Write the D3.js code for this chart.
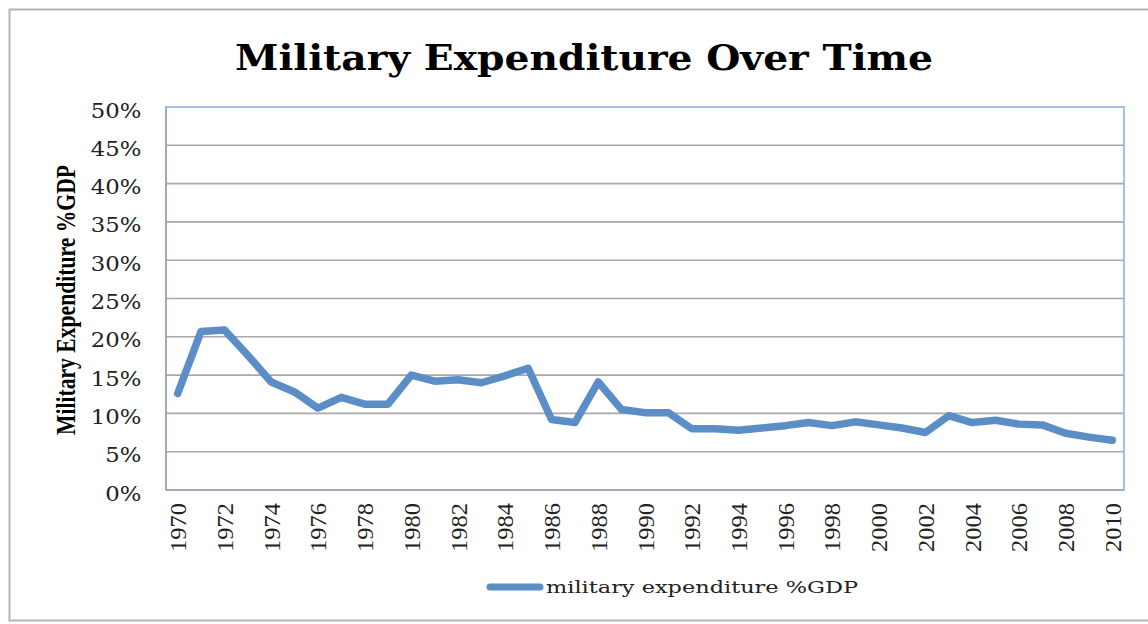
<!DOCTYPE html>
<html>
<head>
<meta charset="utf-8">
<script src="https://cdn.jsdelivr.net/npm/d3@7"></script>
<style>
  body { margin: 0; background: #fff; }
  svg { display: block; }
</style>
</head>
<body>
<div id="chart-area"></div>
<script>
// data (% of GDP)
var years = d3.range(1970, 2011);
var milExp = [12.6, 20.7, 20.9, 17.6, 14.1, 12.8, 10.7, 12.1, 11.2, 11.2,
              15.0, 14.2, 14.4, 14.0, 14.9, 15.9, 9.2, 8.8, 14.1, 10.5,
              10.1, 10.1, 8.0, 8.0, 7.8, 8.1, 8.4, 8.8, 8.4, 8.9,
              8.5, 8.1, 7.5, 9.7, 8.8, 9.1, 8.6, 8.5, 7.4, 6.9, 6.5];
var yTicks = [0, 5, 10, 15, 20, 25, 30, 35, 40, 45, 50];
var xLabels = years.filter(function(y){ return (y - 1970) % 2 === 0; });
var seriesName = "military expenditure %GDP";
var chartTitle = "Military Expenditure Over Time";
var yTitle = "Military Expenditure %GDP";

var width = 1148, height = 624;
var plot = {left: 166, top: 107, right: 1124, bottom: 490};

var svg = d3.select("#chart-area").append("svg")
    .attr("width", width)
    .attr("height", height);

// outer frame
svg.append("rect")
    .attr("x", 9.5).attr("y", 9.5)
    .attr("width", 1150).attr("height", 611)
    .attr("fill", "#fff")
    .attr("stroke", "#b3b3b3")
    .attr("stroke-width", 2);

var x = d3.scaleBand()
    .domain(years)
    .range([plot.left, plot.right]);

var y = d3.scaleLinear()
    .domain([0, 50])
    .range([plot.bottom, plot.top]);

// gridlines
svg.append("g")
    .selectAll("line")
    .data(yTicks.filter(function(d){ return d > 0 && d < 50; }))
    .enter().append("line")
    .attr("x1", plot.left).attr("x2", plot.right)
    .attr("y1", function(d){ return y(d); })
    .attr("y2", function(d){ return y(d); })
    .attr("stroke", "#a9a9a9")
    .attr("stroke-width", 1.6);

// plot border
svg.append("rect")
    .attr("x", plot.left).attr("y", plot.top)
    .attr("width", plot.right - plot.left)
    .attr("height", plot.bottom - plot.top)
    .attr("fill", "none")
    .attr("stroke", "#8db3e2")
    .attr("stroke-width", 1.6);

// axis lines (gray)
svg.append("line")
    .attr("x1", plot.left).attr("x2", plot.left)
    .attr("y1", plot.top).attr("y2", plot.bottom)
    .attr("stroke", "#9ba6b2").attr("stroke-width", 1.6);
svg.append("line")
    .attr("x1", plot.left).attr("x2", plot.right)
    .attr("y1", plot.bottom).attr("y2", plot.bottom)
    .attr("stroke", "#9ba6b2").attr("stroke-width", 1.6);

// y tick labels
svg.append("g")
    .selectAll("text")
    .data(yTicks)
    .enter().append("text")
    .attr("transform", function(d){ return "translate(141.5," + (y(d) + 10.5) + ") scale(1.14,1)"; })
    .attr("text-anchor", "end")
    .attr("font-family", "DejaVu Serif")
    .attr("font-size", 20)
    .attr("fill", "#222")
    .text(function(d){ return d + "%"; });

// x tick labels
svg.append("g")
    .selectAll("text")
    .data(xLabels)
    .enter().append("text")
    .attr("transform", function(d){
        return "translate(" + (x(d) + x.bandwidth() / 2 + 8.5) + ",503) rotate(-90)";
    })
    .attr("text-anchor", "end")
    .attr("font-family", "Liberation Serif")
    .attr("font-size", 23)
    .attr("textLength", 49)
    .attr("lengthAdjust", "spacingAndGlyphs")
    .attr("fill", "#222")
    .text(function(d){ return d; });

// series line
var line = d3.line()
    .x(function(d, i){ return x(years[i]) + x.bandwidth() / 2; })
    .y(function(d){ return y(d); });

svg.append("path")
    .datum(milExp)
    .attr("d", line)
    .attr("fill", "none")
    .attr("stroke", "#5b8ec6")
    .attr("stroke-width", 7.5)
    .attr("stroke-linejoin", "round")
    .attr("stroke-linecap", "round");

// title
svg.append("text")
    .attr("x", 584).attr("y", 70)
    .attr("text-anchor", "middle")
    .attr("font-family", "DejaVu Serif")
    .attr("font-weight", "bold")
    .attr("font-size", 36)
    .attr("textLength", 698)
    .attr("lengthAdjust", "spacingAndGlyphs")
    .attr("fill", "#000")
    .text(chartTitle);

// y axis title
svg.append("text")
    .attr("transform", "translate(75,300) scale(1.4,1) rotate(-90)")
    .attr("text-anchor", "middle")
    .attr("font-family", "Liberation Serif")
    .attr("font-weight", "bold")
    .attr("font-size", 20)
    .attr("textLength", 270)
    .attr("lengthAdjust", "spacingAndGlyphs")
    .attr("fill", "#000")
    .text(yTitle);

// legend
svg.append("line")
    .attr("x1", 490).attr("x2", 540)
    .attr("y1", 587).attr("y2", 587)
    .attr("stroke", "#5b8ec6")
    .attr("stroke-width", 7)
    .attr("stroke-linecap", "round");
svg.append("text")
    .attr("x", 546).attr("y", 593)
    .attr("font-family", "DejaVu Serif")
    .attr("font-size", 17)
    .attr("textLength", 312)
    .attr("lengthAdjust", "spacingAndGlyphs")
    .attr("fill", "#222")
    .text(seriesName);
</script>
</body>
</html>
